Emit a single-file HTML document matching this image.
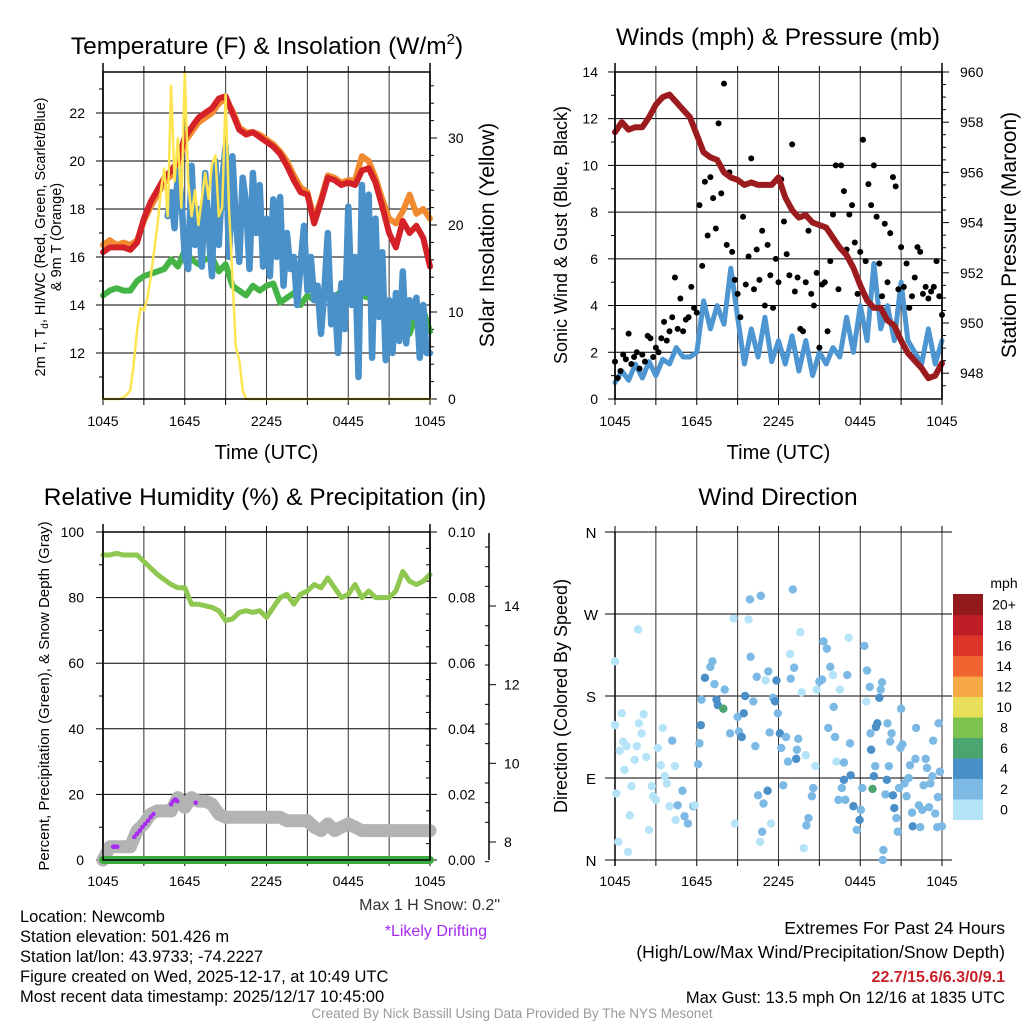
<!DOCTYPE html>
<html><head><meta charset="utf-8">
<style>
html,body{margin:0;padding:0;background:#fff;}
svg{display:block;font-family:"Liberation Sans",sans-serif;}
</style></head>
<body>
<svg id="fig" width="1024" height="1024" viewBox="0 0 1024 1024" xmlns="http://www.w3.org/2000/svg"></svg>
<script>
// ---------- DATA ----------
const timeTicks = ["1045","1645","2245","0445","1045"];
// temperature panel, 0.5 h steps from 0 to 24 h
const temp2m = [16.2,16.4,16.4,16.4,16.3,16.6,17.6,18.3,18.8,19.3,19.6,20.0,21.0,21.4,21.8,22.0,22.2,22.6,22.7,22.0,21.3,21.1,21.2,21.0,20.8,20.6,20.3,19.8,19.2,18.7,18.6,17.4,18.3,19.3,19.2,19.0,19.1,19.0,19.6,19.7,19.1,18.1,17.0,16.4,17.5,17.0,17.3,16.8,15.6];
const temp9m = [16.5,16.7,16.5,16.6,16.5,16.7,17.5,18.1,18.6,19.1,19.4,19.8,20.8,21.2,21.6,21.8,22.0,22.4,22.6,22.1,21.4,21.2,21.2,21.1,20.9,20.7,20.4,20.0,19.4,18.9,18.7,17.6,18.4,19.4,19.3,19.1,19.2,19.2,20.2,20.0,19.3,18.4,17.6,17.4,17.9,18.6,17.8,18.0,17.6];
const dewpoint = [14.4,14.6,14.7,14.6,14.6,15.0,15.2,15.3,15.4,15.5,15.9,15.6,16.3,15.9,15.7,15.9,16.0,15.4,15.7,14.8,14.6,14.4,14.8,14.6,14.8,14.9,14.1,14.3,14.5,14.0,14.4,14.2,14.3,14.4,14.3,14.6,14.9,14.5,14.4,14.3,14.2,14.0,13.8,13.6,13.4,12.8,13.6,13.8,12.9];
// wind chill from 4.75 h in 0.25 h steps
const windChillStart = 4.75;
const windChill = [17.7,18.7,17.2,19.6,18.5,16.0,15.5,19.8,16.5,18.0,15.6,19.5,17.0,15.2,20.0,16.5,19.2,20.6,16.0,20.2,17.5,15.8,19.3,18.2,15.5,19.5,17.0,19.0,15.6,17.6,15.2,18.4,16.0,18.5,14.8,17.0,15.5,16.0,14.0,15.7,17.3,14.6,16.0,14.2,14.8,12.8,14.6,17.0,13.2,14.4,12.0,14.9,13.0,18.1,14.0,16.0,11.0,19.0,14.5,18.6,11.8,17.6,13.5,16.2,11.7,14.2,12.0,14.5,12.5,15.4,12.4,14.2,13.5,14.3,11.8,14.0,12.0,12.0];
// insolation 0.25 h steps from 0 to 11 h, then zero
const insolation = [0,0,0,0,0,0,0.2,0.5,1,4,7.9,10.5,10.2,11.5,14,17,20,24,26.5,21,36,25,30,22,37.5,25,21,24,20,23,26,23,27,28,21,22,35,22,14,6,4.5,1,0,0,0];
const tempTicks = [12,14,16,18,20,22];
const insTicks = [0,10,20,30];
// winds panel (0.5 h steps)
const windSpeed = [0.7,1.2,0.8,1.5,0.9,1.6,1.0,1.7,1.5,2.2,1.8,1.8,2.0,4.2,3.0,4.0,3.2,5.6,3.5,1.5,3.0,1.8,3.5,1.6,2.5,1.5,2.7,1.2,2.5,1.0,2.0,1.5,2.2,1.8,3.5,2.0,4.0,2.5,5.8,3.0,4.0,2.5,5.0,2.5,2.0,1.5,3.0,1.5,2.5];
const pressure = [957.6,958.0,957.7,957.8,957.8,958.2,958.7,959.0,959.1,958.8,958.5,958.2,957.5,956.8,956.6,956.5,956.0,955.8,955.7,955.5,955.6,955.5,955.5,955.5,955.8,955.0,954.5,954.2,954.3,954.0,953.9,953.8,953.4,953.0,952.7,952.2,951.5,950.9,950.6,950.6,950.1,949.9,949.3,948.8,948.5,948.2,947.8,947.9,948.4];
// gusts 0.2 h steps
const gusts = [1.6,0.9,1.2,1.9,1.7,2.8,1.5,1.8,2.0,1.3,1.9,
1.6,2.7,2.6,1.8,2.2,2.0,2.6,3.3,2.5,2.9,
3.5,5.2,3.0,4.3,2.9,3.4,3.5,4.8,3.9,3.7,
8.3,5.7,9.3,7.0,9.5,8.6,7.3,11.8,8.8,13.5,
6.6,9.7,6.3,5.1,4.5,3.5,7.8,4.9,6.1,10.3,
4.7,6.4,5.1,7.2,4.0,6.6,5.3,3.9,6.0,5.0,
9.4,7.6,6.2,5.3,10.9,4.6,5.2,3.0,2.9,5.0,
7.2,4.5,4.0,5.4,2.2,4.9,5.0,2.9,5.9,7.9,
10.0,4.7,10.0,8.9,6.4,7.9,8.3,6.7,4.5,6.3,
11.1,5.9,9.2,8.3,10.0,7.8,5.8,4.4,7.5,5.0,
7.1,9.5,9.1,4.7,6.5,4.8,5.8,3.9,4.4,5.2,
6.5,6.3,4.5,4.8,4.3,4.6,4.8,5.9,4.4,3.6];
const windTicks = [0,2,4,6,8,10,12,14];
const pressTicks = [948,950,952,954,956,958,960];
// humidity panel (0.5 h steps)
const relHum = [93,93,93.5,93,93,93,91,89,87,85.5,84,83,83,78,78,77.5,77,76,73,73.5,75.5,76,75.5,76,74,77,80,81,78,81,82,84,83,86,83,80,81,84,80,82,80,80,80,82,88,85,84,85,87];
const precip = [0,0,0,0,0,0,0,0,0,0,0,0,0,0,0,0,0,0,0,0,0,0,0,0,0];
const snowDepth = [7.54,7.88,7.88,7.88,7.88,8.29,8.46,8.71,8.79,8.79,8.79,9.13,8.88,9.13,9.04,9.04,8.96,8.71,8.63,8.63,8.63,8.63,8.63,8.63,8.63,8.63,8.63,8.54,8.54,8.54,8.54,8.38,8.29,8.46,8.29,8.38,8.46,8.38,8.29,8.29,8.29,8.29,8.29,8.29,8.29,8.29,8.29,8.29,8.29];
const driftT = [0.75,0.9,1.05,2.3,2.5,2.7,2.9,3.1,3.3,3.5,3.7,5.0,5.15,5.3,5.45,6.8];
const driftS = [7.88,7.88,7.88,8.13,8.21,8.29,8.38,8.46,8.54,8.63,8.71,8.96,9.04,9.08,9.04,9.0];
const rhTicks = [0,20,40,60,80,100];
const precipTicks = ["0.00","0.02","0.04","0.06","0.08","0.10"];
const snowTicks = [8,10,12,14];
// wind direction points
const dirT = [0.0,0,0.1,0.25,0.35,0.5,0.6,0.7,0.85,0.95,1.08,1.2,1.45,1.6,1.7,1.75,1.95,2.1,2.3,2.5,2.7,2.8,3.0,3.15,3.35,3.5,3.65,3.8,4.0,4.2,4.4,4.45,4.6,4.95,5.1,5.35,5.75,5.85,6.1,6.2,6.3,6.35,6.6,7.0,7.15,7.3,7.45,7.55,7.95,8.05,8.45,8.7,8.8,9.0,9.1,9.3,9.45,9.55,9.8,9.9,9.95,10.15,10.3,10.4,10.5,10.65,10.7,10.8,10.9,11.05,11.25,11.2,11.35,11.45,11.6,11.75,11.85,11.95,12.1,12.2,12.35,12.55,12.7,12.85,12.9,13.05,13.15,13.3,13.35,13.45,13.6,13.7,13.85,14.0,14.05,14.2,14.45,14.55,14.7,14.8,15.0,15.2,15.3,15.55,15.65,15.8,16.0,16.05,16.15,16.25,16.4,16.5,16.65,16.8,16.8,16.9,17.05,17.15,17.25,17.3,17.5,17.75,17.95,18.05,18.15,18.3,18.45,18.5,18.7,18.75,18.8,18.9,19.0,19.1,19.15,19.25,19.4,19.5,19.6,19.7,19.65,19.85,19.95,20.0,20.1,20.2,20.3,20.4,20.5,20.65,20.75,20.85,20.95,21.0,21.1,21.25,21.4,21.55,21.65,21.8,21.85,22.05,22.1,22.3,22.4,22.55,22.65,22.8,22.9,23.05,23.15,23.3,23.35,23.5,23.65,23.7,23.75,23.85,24.0];
const dirDeg = [218,148,73,20,120,161,130,99,125,9,49,81,110,125,253,150,139,160,113,33,81,70,66,123,104,145,92,84,59,131,103,44,60,76,48,40,59,60,105,128,148,176,200,212,218,193,176,170,166,187,139,265,40,157,141,135,161,180,264,286,223,174,125,201,71,20,290,31,62,197,207,76,140,40,178,174,197,161,139,123,82,135,108,226,199,297,211,111,121,133,250,184,13,115,38,46,70,79,103,187,196,198,240,232,145,212,203,168,135,108,66,187,79,107,88,66,203,244,128,93,59,33,44,55,79,235,174,208,190,139,121,78,92,103,146,150,178,187,195,11,0,72,88,150,103,130,139,71,57,46,31,79,123,166,127,84,70,90,104,52,37,111,145,60,36,55,82,111,101,58,84,92,131,51,36,69,150,97,37];
const dirSpd = [1.2,1.0,1.0,1.0,1.0,1.0,1.0,1.0,1.0,1.0,1.0,1.0,1.0,1.0,1.0,1.0,1.0,1.0,1.0,1.0,1.0,1.0,1.0,1.0,1.0,1.0,1.0,1.0,1.0,2.8,1.0,1.0,2.8,2.8,2.8,2.8,2.8,1.5,2.8,2.8,4.5,2.8,4.5,2.8,2.8,2.8,4.5,4.5,6.5,2.8,2.8,0.8,0.8,2.8,2.8,4.5,4.5,4.5,0.8,2.8,2.8,2.8,2.8,2.8,2.8,0.8,2.8,2.8,2.8,0.8,2.8,4.5,2.8,0.8,2.8,4.5,4.5,2.8,4.5,2.8,2.8,2.8,2.8,0.8,2.8,2.8,2.8,4.5,2.8,2.8,0.8,0.8,0.8,0.8,2.8,2.8,2.8,2.8,0.8,0.8,2.8,2.8,2.8,2.8,2.8,2.8,0.8,2.8,2.8,0.8,2.8,0.8,2.8,2.8,4.5,2.8,2.8,0.8,2.8,4.5,4.5,2.8,4.5,2.8,2.8,2.8,0.8,2.8,2.8,2.8,4.5,6.5,4.5,2.8,4.5,4.5,4.5,2.8,2.8,2.8,2.8,2.8,4.5,2.8,2.8,2.8,2.8,4.5,4.5,2.8,2.8,2.8,2.8,2.8,2.8,2.8,2.8,2.8,2.8,2.8,4.5,2.8,2.8,2.8,2.8,2.8,2.8,2.8,2.8,2.8,2.8,2.8,2.8,2.8,2.8,2.8,2.8,2.8,2.8,2.8];
const dirLabels = ["N","E","S","W","N"];
const speedBinLabels = ["0","2","4","6","8","10","12","14","16","18","20+"];
const speedBinColors = ["#b5e3f8","#7cb9e5","#4a8fc7","#4aa56f","#7dc24d","#e8e05a","#f6a946","#ef6430","#dc3529","#bf1e26","#921a1c"];

// ---------- HELPERS ----------
const NS = "http://www.w3.org/2000/svg";
const svg = document.getElementById("fig");
function mk(tag, attrs, name, parent) {
  const el = document.createElementNS(NS, tag);
  for (const k in attrs) el.setAttribute(k, attrs[k]);
  
  
  (parent || svg).appendChild(el);
  return el;
}
function txt(x, y, s, size, anchor, name, extra) {
  const el = mk("text", Object.assign({x: x, y: y, "font-size": size, "text-anchor": anchor || "middle", fill: "#000"}, extra || {}), name);
  el.textContent = s;
  return el;
}
function ln(x1, y1, x2, y2, stroke, w, name) {
  return mk("line", {x1: x1, y1: y1, x2: x2, y2: y2, stroke: stroke, "stroke-width": w}, name);
}
function poly(pts, stroke, w, name) {
  const d = pts.filter(p => p[1] !== null).map(p => p[0].toFixed(1) + "," + p[1].toFixed(1)).join(" ");
  return mk("polyline", {points: d, fill: "none", stroke: stroke, "stroke-width": w, "stroke-linejoin": "round", "stroke-linecap": "round"}, name);
}
function timeAxis(X0, X1, Y0, Y1, labelY, showTitle, pfx) {
  const xs = t => X0 + t / 24 * (X1 - X0);
  for (let h = 0; h <= 24; h += 3) {
    ln(xs(h), Y0, xs(h), Y1, "#333", 1, pfx + "-vgrid");
    ln(xs(h), Y1, xs(h), Y1 + 6, "#000", 1, pfx + "-xtick");
    ln(xs(h), Y0, xs(h), Y0 - 6, "#000", 1, pfx + "-xtick-top");
  }
  timeTicks.forEach((s, i) => txt(xs(i * 6), labelY, s, 14, "middle", pfx + "-xtick-label"));
  if (showTitle) txt((X0 + X1) / 2, labelY + 33, "Time (UTC)", 20, "middle", pfx + "-x-axis-title");
  return xs;
}
function frame(X0, X1, Y0, Y1, name) {
  mk("rect", {x: X0, y: Y0, width: X1 - X0, height: Y1 - Y0, fill: "none", stroke: "#000", "stroke-width": 1.5}, name);
}

// ---------- PANEL 1: Temperature ----------
(function () {
  const X0 = 103, X1 = 430, Y0 = 72, Y1 = 399;
  const ty = v => 113 + (22 - v) * 24;
  const iy = v => 399 - v * 8.7;
  const xs = t => X0 + t / 24 * (X1 - X0);
  tempTicks.forEach(v => {
    ln(X0, ty(v), X1, ty(v), "#000", 1, "temp-hgrid");
    ln(X0 - 7, ty(v), X0, ty(v), "#000", 1, "temp-ytick");
    txt(85, ty(v) + 5, String(v), 14, "end", "temp-ytick-label");
  });
  for (let v = 11; v <= 23; v += 2) ln(X0 - 4, ty(v), X0, ty(v), "#000", 1, "temp-minor-tick");
  insTicks.forEach(v => {
    ln(X1, iy(v), X1 + 7, iy(v), "#000", 1, "ins-ytick");
    txt(448, iy(v) + 5, String(v), 14, "start", "ins-ytick-label");
  });
  for (let v = 2; v <= 36; v += 2) if (v % 10) ln(X1, iy(v), X1 + 4, iy(v), "#000", 1, "ins-minor-tick");
  timeAxis(X0, X1, Y0, Y1, 426, true, "temp");
  ln(X0, 63, X0, Y1, "#000", 1.5, "temp-left-axis");
  ln(X1, 63, X1, Y1, "#000", 1.5, "temp-right-axis");
  poly(temp9m.map((v, i) => [xs(i * 0.5), ty(v)]), "#f28a30", 6, "temp-9m-line");
  poly(temp2m.map((v, i) => [xs(i * 0.5), ty(v)]), "#d42027", 6, "temp-2m-line");
  poly(dewpoint.map((v, i) => [xs(i * 0.5), ty(v)]), "#44b446", 6, "dewpoint-line");
  poly(windChill.map((v, i) => [xs(windChillStart + i * 0.25), ty(v)]), "#4a90c9", 6.5, "wind-chill-line");
  const insPts = insolation.map((v, i) => [xs(i * 0.25), iy(v)]);
  insPts.push([xs(24), iy(0)]);
  poly(insPts, "#fde450", 2.5, "insolation-line");
  frame(X0, X1, Y0, Y1, "temp-plot-frame");
  txt(267, 54, "Temperature (F) & Insolation (W/m", 24.5, "middle", "temp-chart-title").innerHTML = 'Temperature (F) &amp; Insolation (W/m<tspan font-size="15" dy="-10">2</tspan><tspan dy="10">)</tspan>';
  const l1 = txt(0, 0, "", 14.5, "middle", "temp-y-axis-title", {transform: "translate(45,237) rotate(-90)"});
  l1.innerHTML = '2m T, T<tspan font-size="10" dy="3">d</tspan><tspan dy="-3">, HI/WC (Red, Green, Scarlet/Blue)</tspan>';
  txt(0, 0, "& 9m T (Orange)", 14.5, "middle", "temp-y-axis-title-line2", {transform: "translate(61,237) rotate(-90)"});
  txt(0, 0, "Solar Insolation (Yellow)", 21, "middle", "insolation-y-axis-title", {transform: "translate(494,235) rotate(-90)"});
})();

// ---------- PANEL 2: Winds ----------
(function () {
  const X0 = 615, X1 = 942, Y0 = 72, Y1 = 399;
  const wy = v => 399 - v * 23.36;
  const py = p => 72 + (960 - p) * 25.1;
  const xs = t => X0 + t / 24 * (X1 - X0);
  windTicks.forEach(v => {
    ln(X0, wy(v), X1, wy(v), "#000", 1, "wind-hgrid");
    ln(X0 - 7, wy(v), X0, wy(v), "#000", 1, "wind-ytick");
    txt(598, wy(v) + 5, String(v), 14, "end", "wind-ytick-label");
  });
  for (let v = 1; v <= 13; v += 2) ln(X0 - 4, wy(v), X0, wy(v), "#000", 1, "wind-minor-tick");
  pressTicks.forEach(p => {
    ln(X1, py(p), X1 + 7, py(p), "#000", 1, "press-ytick");
    txt(960, py(p) + 5, String(p), 14, "start", "press-ytick-label");
  });
  for (let p = 947.5; p < 960; p += 0.5) if (p % 2) ln(X1, py(p), X1 + 4, py(p), "#000", 1, "press-minor-tick");
  timeAxis(X0, X1, Y0, Y1, 426, true, "wind");
  ln(X0, 63, X0, Y1, "#000", 1.5, "wind-left-axis");
  ln(X1, 63, X1, Y1, "#000", 1.5, "wind-right-axis");
  poly(windSpeed.map((v, i) => [xs(i * 0.5), wy(v)]), "#4d96d1", 5, "wind-speed-line");
  gusts.forEach((v, i) => {
    const c = mk("circle", {cx: xs(i * 0.2), cy: wy(v), r: 3, fill: "#000"}, "gust-point");
  });
  poly(pressure.map((v, i) => [xs(i * 0.5), py(v)]), "#9b1b1e", 6, "pressure-line");
  frame(X0, X1, Y0, Y1, "wind-plot-frame");
  txt(778, 45, "Winds (mph) & Pressure (mb)", 24.5, "middle", "wind-chart-title");
  txt(0, 0, "Sonic Wind & Gust (Blue, Black)", 18, "middle", "wind-y-axis-title", {transform: "translate(567,235) rotate(-90)"});
  txt(0, 0, "Station Pressure (Maroon)", 21, "middle", "pressure-y-axis-title", {transform: "translate(1016,235) rotate(-90)"});
})();

// ---------- PANEL 3: Humidity ----------
(function () {
  const X0 = 103, X1 = 430, Y0 = 532, Y1 = 860;
  const ry = p => 860 - p * 3.28;
  const prY = v => 860 - v / 0.1 * 328;
  const sy = s => 842 - (s - 8) * 39.33;
  const xs = t => X0 + t / 24 * (X1 - X0);
  rhTicks.forEach(v => {
    ln(X0, ry(v), X1, ry(v), "#000", 1, "rh-hgrid");
    ln(X0 - 7, ry(v), X0, ry(v), "#000", 1, "rh-ytick");
    txt(84, ry(v) + 5, String(v), 14, "end", "rh-ytick-label");
  });
  for (let v = 10; v < 100; v += 20) ln(X0 - 4, ry(v), X0, ry(v), "#000", 1, "rh-minor-tick");
  precipTicks.forEach((s, i) => {
    ln(X1, prY(i * 0.02), X1 + 7, prY(i * 0.02), "#000", 1, "precip-ytick");
    txt(448, prY(i * 0.02) + 5, s, 14, "start", "precip-ytick-label");
  });
  for (let v = 0.005; v < 0.1; v += 0.005) ln(X1 - 4, prY(v), X1, prY(v), "#000", 1, "precip-minor-tick");
  ln(489, 533, 489, 860, "#000", 1.5, "snow-axis-line");
  snowTicks.forEach(s => {
    ln(489, sy(s), 496, sy(s), "#000", 1, "snow-ytick");
    txt(504, sy(s) + 5, String(s), 14, "start", "snow-ytick-label");
  });
  for (let s = 7.5; s <= 15.5; s += 0.5) if (s % 2) ln(485, sy(s), 489, sy(s), "#000", 1, "snow-minor-tick");
  timeAxis(X0, X1, Y0, Y1, 886, false, "rh");
  ln(X0, 524, X0, Y1, "#000", 1.5, "rh-left-axis");
  ln(X1, 524, X1, Y1, "#000", 1.5, "rh-right-axis");
  poly(snowDepth.map((v, i) => [xs(i * 0.5), sy(v)]), "#b3b3b3", 13, "snow-depth-line");
  driftT.forEach((t, i) => {
    mk("circle", {cx: xs(t), cy: sy(driftS[i]), r: 2.3, fill: "#a52cf0"}, "drifting-point");
  });
  poly(precip.map((v, i) => [xs(i), prY(v)]), "#3daa3f", 8, "precip-line");
  poly(relHum.map((v, i) => [xs(i * 0.5), ry(v)]), "#8fc850", 5, "rh-line");
  frame(X0, X1, Y0, Y1, "rh-plot-frame");
  txt(265, 505, "Relative Humidity (%) & Precipitation (in)", 24.5, "middle", "rh-chart-title");
  txt(0, 0, "Percent, Precipitation (Green), & Snow Depth (Gray)", 15, "middle", "rh-y-axis-title", {transform: "translate(49,696) rotate(-90)"});
})();

// ---------- PANEL 4: Wind Direction ----------
(function () {
  const X0 = 615, X1 = 942, Y0 = 532, Y1 = 860;
  const dy = d => 860 - d / 360 * 328;
  const xs = t => X0 + t / 24 * (X1 - X0);
  dirLabels.forEach((s, i) => {
    ln(X0 - 10, dy(i * 90), X1 + 10, dy(i * 90), "#000", 1, "dir-hgrid");
    txt(591, dy(i * 90) + 6, s, 15, "middle", "dir-ytick-label");
  });
  timeAxis(X0, X1, Y0, Y1, 886, false, "dir");
  ln(X0, Y0, X0, Y1 + 6, "#000", 1.5, "dir-left-axis");
  dirT.forEach((t, i) => {
    const bin = Math.min(10, Math.floor(dirSpd[i] / 2));
    mk("circle", {cx: xs(t), cy: dy(dirDeg[i]), r: 4.2, fill: speedBinColors[bin]}, "direction-point");
  });
  txt(778, 505, "Wind Direction", 24.5, "middle", "dir-chart-title");
  txt(0, 0, "Direction (Colored By Speed)", 18, "middle", "dir-y-axis-title", {transform: "translate(567,696) rotate(-90)"});
  txt(1004, 588, "mph", 14, "middle", "colorbar-title");
  const bh = 20.5;
  speedBinLabels.forEach((s, i) => {
    const y = 594 + (10 - i) * bh;
    mk("rect", {x: 953, y: y, width: 30, height: bh + 0.5, fill: speedBinColors[i]}, "colorbar-box");
    txt(1004, y + bh / 2 + 5, s, 14, "middle", "colorbar-label");
  });
})();

// ---------- FOOTER TEXT ----------
const ft = {"textLength": null};
txt(20, 922, "Location: Newcomb", 16.5, "start", "location-text");
txt(20, 942, "Station elevation: 501.426 m", 16.5, "start", "elevation-text");
txt(20, 962, "Station lat/lon: 43.9733; -74.2227", 16.5, "start", "latlon-text");
txt(20, 982, "Figure created on Wed, 2025-12-17, at 10:49 UTC", 16.5, "start", "created-text");
txt(20, 1002, "Most recent data timestamp: 2025/12/17 10:45:00", 16.5, "start", "timestamp-text");
txt(500, 910, "Max 1 H Snow: 0.2\"", 16, "end", "max-snow-text", {fill: "#333"});
txt(487, 936, "*Likely Drifting", 16, "end", "drifting-note", {fill: "#a52cf0"});
txt(1005, 934, "Extremes For Past 24 Hours", 17.5, "end", "extremes-title");
txt(1005, 958, "(High/Low/Max Wind/Precipitation/Snow Depth)", 17.5, "end", "extremes-subtitle");
txt(1005, 982, "22.7/15.6/6.3/0/9.1", 16, "end", "extremes-values", {fill: "#c8202a", "font-weight": "bold"});
txt(1005, 1003, "Max Gust: 13.5 mph On 12/16 at 1835 UTC", 16.5, "end", "max-gust-text");
txt(512, 1018, "Created By Nick Bassill Using Data Provided By The NYS Mesonet", 13.5, "middle", "credit-text", {fill: "#999"});
</script>
</body></html>
